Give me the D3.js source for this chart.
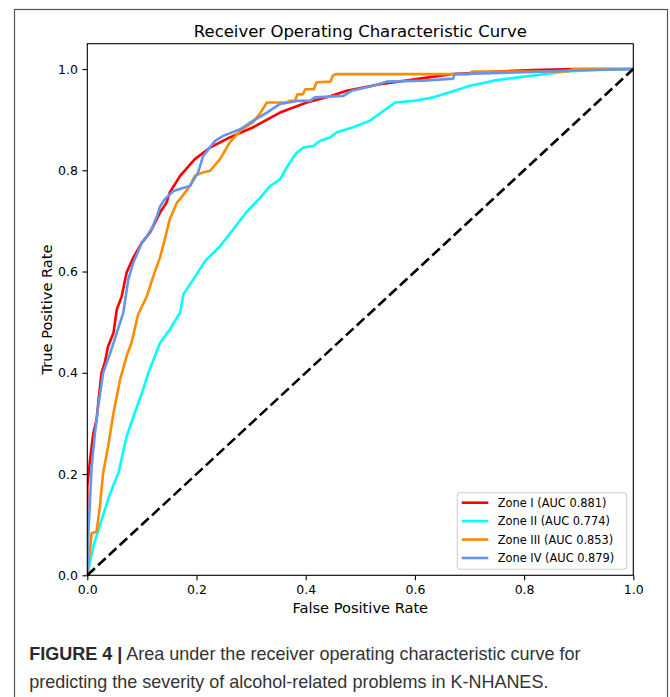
<!DOCTYPE html>
<html>
<head>
<meta charset="utf-8">
<script src="https://cdn.jsdelivr.net/npm/d3@7"></script>
<style>
  html, body { margin: 0; padding: 0; background: #fff; }
  svg { display: block; }
</style>
</head>
<body>
<svg id="chart" width="670" height="697"></svg>
<script>
// ---------- data ----------
const zoneNames = ["Zone I", "Zone II", "Zone III", "Zone IV"];
const aucValues = [0.881, 0.774, 0.853, 0.879];

// [FPR, TPR] points
const zone1Points = [[0,0],[0,0.175],[0.005,0.228],[0.011,0.281],[0.017,0.307],[0.02,0.34],[0.026,0.40],[0.032,0.42],[0.038,0.452],[0.048,0.479],[0.054,0.525],[0.063,0.551],[0.072,0.598],[0.084,0.627],[0.1,0.657],[0.115,0.677],[0.133,0.716],[0.145,0.736],[0.151,0.756],[0.17,0.789],[0.197,0.822],[0.225,0.845],[0.261,0.865],[0.304,0.885],[0.353,0.914],[0.402,0.934],[0.445,0.946],[0.475,0.957],[0.536,0.97],[0.609,0.981],[0.67,0.99],[0.75,0.995],[0.817,0.998],[0.89,1.0],[1,1]];
const zone2Points = [[0,0],[0.011,0.057],[0.026,0.109],[0.042,0.162],[0.057,0.202],[0.072,0.274],[0.087,0.321],[0.1,0.36],[0.112,0.40],[0.133,0.459],[0.151,0.485],[0.17,0.519],[0.176,0.555],[0.194,0.584],[0.216,0.621],[0.243,0.65],[0.267,0.683],[0.292,0.718],[0.316,0.745],[0.335,0.769],[0.353,0.782],[0.365,0.805],[0.377,0.825],[0.384,0.835],[0.396,0.845],[0.414,0.848],[0.426,0.858],[0.445,0.865],[0.457,0.875],[0.487,0.885],[0.518,0.898],[0.542,0.917],[0.564,0.934],[0.597,0.937],[0.634,0.944],[0.664,0.954],[0.701,0.967],[0.744,0.977],[0.792,0.984],[0.841,0.99],[0.878,0.995],[0.933,0.998],[1,1]];
const zone3Points = [[0,0],[0.008,0.083],[0.017,0.086],[0.023,0.136],[0.029,0.202],[0.038,0.254],[0.048,0.321],[0.06,0.386],[0.072,0.433],[0.081,0.459],[0.093,0.515],[0.109,0.551],[0.121,0.591],[0.133,0.627],[0.142,0.664],[0.151,0.703],[0.164,0.736],[0.17,0.743],[0.188,0.769],[0.197,0.789],[0.21,0.795],[0.225,0.799],[0.243,0.822],[0.261,0.855],[0.28,0.878],[0.304,0.895],[0.318,0.915],[0.329,0.934],[0.365,0.934],[0.37,0.937],[0.38,0.937],[0.385,0.95],[0.395,0.95],[0.399,0.96],[0.415,0.96],[0.42,0.974],[0.445,0.975],[0.45,0.987],[0.455,0.99],[0.70,0.99],[0.705,0.995],[0.88,0.995],[0.89,1.0],[1,1]];
const zone4Points = [[0,0],[0.002,0.083],[0.008,0.215],[0.014,0.281],[0.02,0.334],[0.029,0.40],[0.042,0.439],[0.054,0.479],[0.066,0.519],[0.075,0.584],[0.084,0.617],[0.1,0.657],[0.106,0.664],[0.118,0.685],[0.128,0.71],[0.133,0.728],[0.142,0.743],[0.158,0.759],[0.175,0.765],[0.188,0.769],[0.203,0.796],[0.212,0.828],[0.234,0.858],[0.249,0.868],[0.28,0.881],[0.304,0.898],[0.329,0.914],[0.353,0.931],[0.384,0.937],[0.408,0.937],[0.417,0.944],[0.469,0.947],[0.484,0.957],[0.524,0.967],[0.548,0.975],[0.615,0.977],[0.67,0.981],[0.673,0.99],[0.817,0.994],[0.884,0.997],[1,1]];
const chancePoints = [[0,0],[1,1]];

const xTickValues = [0, 0.2, 0.4, 0.6, 0.8, 1.0];
const yTickValues = [0, 0.2, 0.4, 0.6, 0.8, 1.0];

const titleText = "Receiver Operating Characteristic Curve";
const xLabelText = "False Positive Rate";
const yLabelText = "True Positive Rate";
const captionBold = "FIGURE 4 |";
const captionLine1 = " Area under the receiver operating characteristic curve for";
const captionLine2 = "predicting the severity of alcohol-related problems in K-NHANES.";

// ---------- styles / layout ----------
const seriesColors = ["#ff0000", "#00ffff", "#ff8c00", "#6495ed"];
const seriesData = [zone1Points, zone2Points, zone3Points, zone4Points];
const mplFont = "'DejaVu Sans', sans-serif";

const plot = { left: 87.3, right: 633.3, top: 43.7, bottom: 575.3 };

const svg = d3.select("#chart");

// figure frame
svg.append("rect")
  .attr("x", 14.5).attr("y", 9.5)
  .attr("width", 653).attr("height", 700)
  .attr("fill", "#fff").attr("stroke", "#555").attr("stroke-width", 1.2);

const x = d3.scaleLinear().domain([0, 1]).range([plot.left, plot.right]);
const y = d3.scaleLinear().domain([0, 1.05]).range([plot.bottom, plot.top]);

// clip
svg.append("clipPath").attr("id", "clip")
  .append("rect")
  .attr("x", plot.left).attr("y", plot.top)
  .attr("width", plot.right - plot.left).attr("height", plot.bottom - plot.top);

const line = d3.line().x(d => x(d[0])).y(d => y(d[1]));

const g = svg.append("g").attr("clip-path", "url(#clip)");
seriesData.forEach((pts, i) => {
  g.append("path")
    .attr("d", line(pts))
    .attr("fill", "none")
    .attr("stroke", seriesColors[i])
    .attr("stroke-width", 2.6)
    .attr("stroke-linejoin", "round");
});
svg.append("path")
  .attr("d", line(chancePoints))
  .attr("fill", "none")
  .attr("stroke", "#000")
  .attr("stroke-width", 2.6)
  .attr("stroke-dasharray", "10.3,4.4");

// axes
const xAxis = d3.axisBottom(x).tickValues(xTickValues).tickFormat(d3.format(".1f")).tickSize(4.9).tickPadding(4.5).tickSizeOuter(0);
const yAxis = d3.axisLeft(y).tickValues(yTickValues).tickFormat(d3.format(".1f")).tickSize(4.9).tickPadding(4.5).tickSizeOuter(0);

const gx = svg.append("g").attr("transform", `translate(0,${plot.bottom})`).call(xAxis);
const gy = svg.append("g").attr("transform", `translate(${plot.left},0)`).call(yAxis);
[gx, gy].forEach(a => {
  a.select(".domain").remove();
  a.selectAll("line").attr("stroke", "#000").attr("stroke-width", 1.1);
  a.selectAll("text").attr("font-family", mplFont).attr("font-size", 12.5).attr("fill", "#000");
});

// spines
svg.append("rect")
  .attr("x", plot.left).attr("y", plot.top)
  .attr("width", plot.right - plot.left).attr("height", plot.bottom - plot.top)
  .attr("fill", "none").attr("stroke", "#000").attr("stroke-width", 1.1);

// title & labels
const cx = (plot.left + plot.right) / 2;
svg.append("text").attr("x", cx).attr("y", 36.7)
  .attr("text-anchor", "middle").attr("font-family", mplFont).attr("font-size", 16.5)
  .attr("fill", "#000").text(titleText);
svg.append("text").attr("x", cx).attr("y", 613.3)
  .attr("text-anchor", "middle").attr("font-family", mplFont).attr("font-size", 14.6)
  .attr("fill", "#000").text(xLabelText);
svg.append("text")
  .attr("transform", `translate(51.5,${(plot.top + plot.bottom) / 2}) rotate(-90)`)
  .attr("text-anchor", "middle").attr("font-family", mplFont).attr("font-size", 14.6)
  .attr("fill", "#000").text(yLabelText);

// legend
const leg = { x: 457.3, y: 492.7, w: 169.4, h: 76.6 };
svg.append("rect")
  .attr("x", leg.x).attr("y", leg.y).attr("width", leg.w).attr("height", leg.h)
  .attr("rx", 3).attr("fill", "#fff").attr("fill-opacity", 0.8)
  .attr("stroke", "#d0d0d0").attr("stroke-width", 1.1);
const rowY = d3.scaleLinear().domain([0, zoneNames.length - 1]).range([502.7, 558]);
zoneNames.forEach((name, i) => {
  svg.append("line")
    .attr("x1", 461.7).attr("x2", 488.3)
    .attr("y1", rowY(i)).attr("y2", rowY(i))
    .attr("stroke", seriesColors[i]).attr("stroke-width", 2.6);
  svg.append("text")
    .attr("x", 497.7).attr("y", rowY(i))
    .attr("dy", "0.36em")
    .attr("font-family", mplFont).attr("font-size", 11.4).attr("fill", "#000")
    .text(`${name} (AUC ${d3.format(".3f")(aucValues[i])})`);
});

// caption
const cap = svg.append("g");
const capFont = "'Liberation Sans', Arial, sans-serif";
const t1 = cap.append("text").attr("x", 0).attr("y", 660)
  .attr("font-family", capFont).attr("font-size", 17.7).attr("fill", "#333");
t1.append("tspan").attr("font-weight", "bold").attr("fill", "#2a2a2a").text(captionBold);
t1.append("tspan").text(captionLine1);
const t2 = cap.append("text").attr("x", 0).attr("y", 688)
  .attr("font-family", capFont).attr("font-size", 17.7).attr("fill", "#333")
  .text(captionLine2);
const w1 = t1.node().getComputedTextLength();
const sx = 551 / w1;
cap.attr("transform", `translate(29.3,0) scale(${sx},1)`);
</script>
</body>
</html>
